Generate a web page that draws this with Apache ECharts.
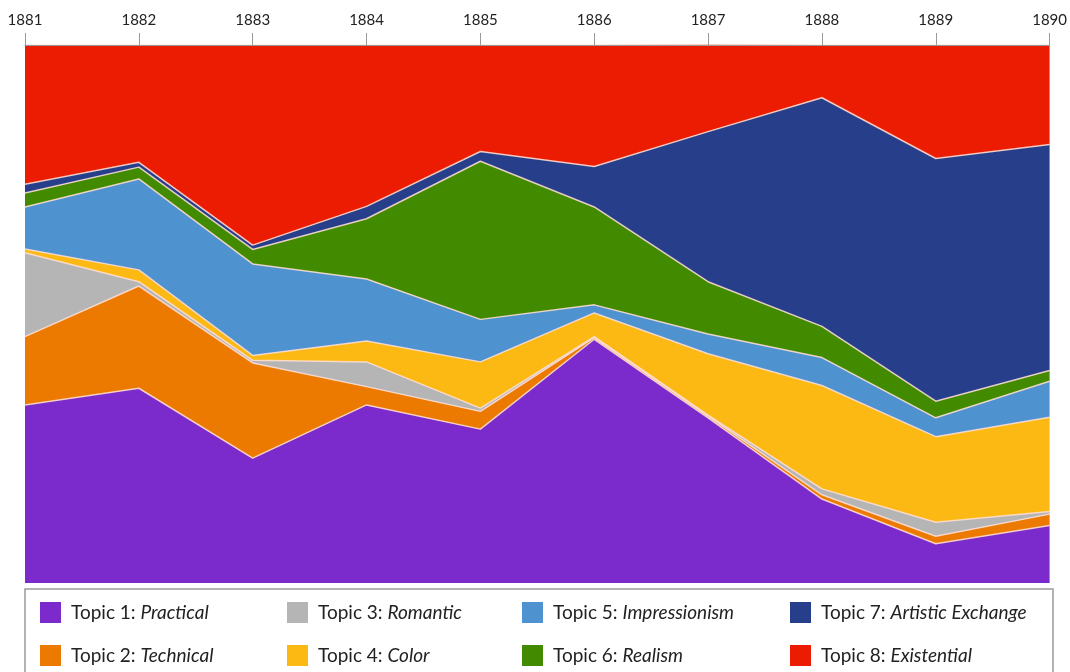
<!DOCTYPE html>
<html>
<head>
<meta charset="utf-8">
<script src="https://cdn.jsdelivr.net/npm/echarts@6/dist/echarts.min.js"></script>
<style>html,body{margin:0;padding:0;background:#fff}#c{width:1070px;height:672px}</style>
</head>
<body>
<div id="c"></div>
<script>
var years = ['1881','1882','1883','1884','1885','1886','1887','1888','1889','1890'];
var topicNames = ['Topic 1: Practical','Topic 2: Technical','Topic 3: Romantic','Topic 4: Color','Topic 5: Impressionism','Topic 6: Realism','Topic 7: Artistic Exchange','Topic 8: Existential'];
var practical     = [33.1, 36.2, 23.2, 33.1, 28.6, 45.3, 30.7, 15.6, 7.3, 10.7];
var technical     = [12.7, 19.0, 17.7, 3.4, 3.3, 0.3, 0.3, 0.8, 1.4, 2.1];
var romantic      = [15.6, 0.8, 0.5, 4.6, 0.6, 0.2, 0.2, 1.1, 2.6, 0.5];
var color         = [0.7, 2.2, 0.9, 3.9, 8.6, 4.4, 11.4, 19.2, 15.9, 17.5];
var impressionism = [7.8, 16.9, 17.0, 11.5, 7.9, 1.5, 3.7, 5.2, 3.5, 6.7];
var realism       = [2.6, 2.2, 2.7, 11.2, 29.4, 18.2, 9.7, 5.8, 3.1, 2.0];
var artistic      = [1.6, 0.9, 0.8, 2.3, 1.8, 7.5, 27.9, 42.5, 45.1, 42.0];
var existential   = [25.9, 21.8, 37.2, 30.0, 19.8, 22.6, 16.2, 9.8, 21.1, 18.5];
var seriesValues = [practical, technical, romantic, color, impressionism, realism, artistic, existential];
var colors = ['#7B2BCC','#EC7A00','#B5B5B5','#FDB913','#4F92D0','#428A00','#273F8A','#EC1C02'];

var chart = echarts.init(document.getElementById('c'));
var series = topicNames.map(function(n, i){
  return {
    name: n, type: 'line', stack: 'all', data: seriesValues[i],
    symbol: 'none', color: colors[i],
    lineStyle: {width: 1.5, color: 'rgba(255,222,212,0.85)'},
    areaStyle: {color: colors[i], opacity: 1},
    emphasis: {disabled: true}
  };
});
function legendAt(left, names){
  return {
    data: names, orient: 'vertical', left: left, top: 602, padding: 0, height: 70,
    itemWidth: 21, itemHeight: 21, itemGap: 22, icon: 'rect',
    selectedMode: false,
    formatter: function(name){
      var p = name.split(': ');
      return '{n|' + p[0] + ': }{i|' + p[1] + '}';
    },
    textStyle: {
      rich: {
        n: {fontFamily: 'Lato', fontSize: 19, color: '#222', padding: [0,0,0,5]},
        i: {fontFamily: 'Lato', fontSize: 19, color: '#222', fontStyle: 'italic'}
      }
    }
  };
}
chart.setOption({
  animation: false,
  grid: {left: 25, right: 17, top: 45, bottom: 89},
  xAxis: {
    type: 'category', data: years, position: 'top', boundaryGap: false, z: 10,
    axisLine: {show: true, onZero: false, lineStyle: {color: '#999', width: 1}},
    axisTick: {show: true, length: 12, lineStyle: {color: '#999'}},
    axisLabel: {fontFamily: 'Lato', fontSize: 15, color: '#222', margin: 17}
  },
  yAxis: {type: 'value', min: 0, max: 100, show: false},
  legend: [
    legendAt(40, [topicNames[0], topicNames[1]]),
    legendAt(287, [topicNames[2], topicNames[3]]),
    legendAt(522, [topicNames[4], topicNames[5]]),
    legendAt(790, [topicNames[6], topicNames[7]])
  ],
  graphic: [{
    type: 'rect', shape: {x: 25, y: 589, width: 1028, height: 100},
    style: {fill: 'none', stroke: '#9a9a9a', lineWidth: 1.5}, z: 0, silent: true
  }],
  series: series
});
</script>
</body>
</html>
